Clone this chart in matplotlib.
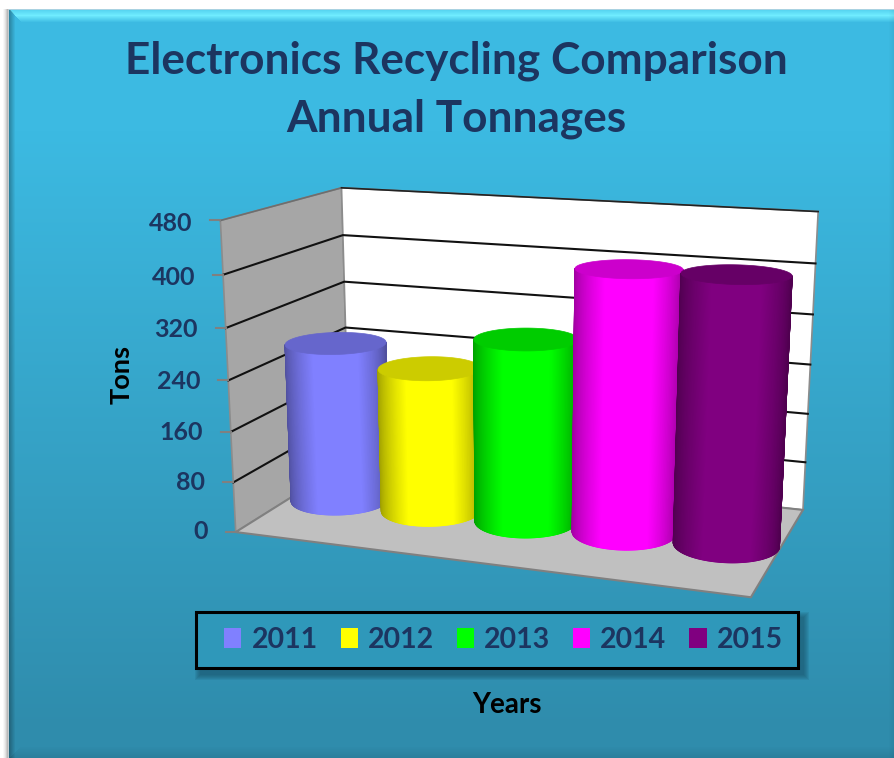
import numpy as np
import matplotlib
matplotlib.use('Agg')
from matplotlib import pyplot as plt
from matplotlib.collections import PolyCollection
from matplotlib.patches import Patch, Polygon, Rectangle

plt.rcParams['font.family'] = ['Lato', 'DejaVu Sans']

years = ['2011', '2012', '2013', '2014', '2015']
tons = [261, 233, 292, 410, 412]
colors = [(128, 128, 255), (255, 255, 0), (0, 255, 0), (255, 0, 255), (128, 0, 128)]
y_ticks = [0, 80, 160, 240, 320, 400, 480]
y_max = 480

NAVY = '#1C3560'
W, H = 894, 758


# Camera of the 3D box: (across, depth, height) in 0..1 -> pixel of the picture
def fit_camera():
    box = [(0, 0, 0), (1, 0, 0), (1, 1, 0), (0, 1, 0), (0, 0, 1), (0, 1, 1), (1, 1, 1)]
    pix = [(236, 530), (751, 599), (803, 508), (349, 463), (220, 221), (342, 187), (818, 212)]
    rows = []
    for (a, b, c), (x, y) in zip(box, pix):
        rows.append([a, b, c, 1, 0, 0, 0, 0, -x * a, -x * b, -x * c, -x])
        rows.append([0, 0, 0, 0, a, b, c, 1, -y * a, -y * b, -y * c, -y])
    return np.linalg.svd(np.array(rows, float))[2][-1].reshape(3, 4)


CAM = fit_camera()


def project(a, b, c):
    a, b, c = np.broadcast_arrays(a, b, c)
    q = CAM @ np.stack([a, b, c, np.ones_like(a)]).reshape(4, -1).astype(float)
    return np.stack([q[0] / q[2], q[1] / q[2]], axis=1)


def background():
    img = np.zeros((H, W, 3))
    top = np.array([60, 186, 226.])
    bottom = np.array([47, 140, 172.])
    t = np.clip((np.arange(H)[:, None] - 130) / 600, 0, 1)
    img[:] = (top + (bottom - top) * t)[:, None, :].reshape(H, 1, 3)
    # bevels round the panel
    glow = np.array([112, 236, 255.])
    for y in range(10, 23):
        k = 1 - abs(y - 15) / 7 if y > 15 else 0.55 + 0.09 * (y - 10)
        img[y, y:] = top + (glow - top) * k
    for x in range(9, 15):
        img[x:, x] = img[x:, x] * (0.72 + 0.047 * (x - 9))
    for y in range(746, H):
        img[y, 9 + (H - y):] = img[y, 9 + (H - y):] * (1 - 0.008 * (y - 746))
    for x in range(888, W):
        img[:, x] = img[:, x] * (1 - 0.01 * (x - 888))
    img[9, 9:] = np.array([170, 210, 225.])
    img[:9, :] = 255
    img[:, :9] = 255
    img[9:, 3:9] = np.array([[248] * 3, [238] * 3, [225] * 3, [205] * 3, [185] * 3, [195, 205, 210]])
    return img / 255


def draw_walls(ax):
    wall = project([0, 0, 0, 0], [0, 1, 1, 0], [0, 0, 1, 1])
    back = project([0, 1, 1, 0], [1, 1, 1, 1], [0, 0, 1, 1])
    floor = project([0, 1, 1, 0], [0, 0, 1, 1], [0, 0, 0, 0])
    ax.add_patch(Polygon(wall, fc='#A6A6A6', ec='#8C8C8C', lw=1.2, zorder=2))
    ax.add_patch(Polygon(back, fc='white', ec='#8C8C8C', lw=1.2, zorder=2))
    ax.add_patch(Polygon(floor, fc='#C0C0C0', ec='#808080', lw=1.5, zorder=2))

    for tick in y_ticks:
        h = tick / y_max
        line = project([0, 0, 1], [0, 1, 1], [h, h, h])
        if tick == y_max:
            # top edge of the side wall is grey, only the back wall one is dark
            ax.plot(line[:2, 0], line[:2, 1], color='#6E6E6E', lw=1.2, zorder=3)
            ax.plot(line[1:, 0], line[1:, 1], color='#222222', lw=1.2, zorder=3)
        elif tick > 0:
            ax.plot(line[:, 0], line[:, 1], color='#111111', lw=1.5, zorder=3)
        x0, y0 = project(0, 0, h)[0]
        ax.plot([x0 - 10, x0], [y0, y0], color='#808080', lw=1.5, zorder=3)
        ax.text(x0 - 28, y0 - 1 + 4 * h, str(tick), ha='right', va='center', color=NAVY,
                fontsize=18, fontweight='bold', zorder=6)


def draw_cylinder(ax, idx, value, rgb):
    rgb = np.array(rgb) / 255
    u = (idx + 0.5) / len(tons)
    ang = np.linspace(0, 2 * np.pi, 361)
    a = u + 0.099 * np.cos(ang)
    b = 0.5 + 0.2 * np.sin(ang)
    h = value / y_max
    base = project(a, b, 0)
    top = project(a, b, h)

    # only the arc that faces the viewer, from the left extreme to the right one
    i0, i1 = np.argmin(base[:, 0]), np.argmax(base[:, 0])
    n = len(ang) - 1
    arc = [(i0 + k) % n for k in range(((i1 - i0) % n) + 1)]
    if base[arc, 1].mean() < base[:-1, 1].mean():
        arc = [(i0 - k) % n for k in range(((i0 - i1) % n) + 1)]

    # opaque body first so no wall line shows between the strips
    outline = np.vstack([base[arc], top[arc][::-1]])
    z = 4 + idx * 0.1
    ax.add_patch(Polygon(outline, fc=rgb * 0.8, ec='none', zorder=z))

    left, right = base[i0, 0], base[i1, 0]
    strips, shades = [], []
    for p, q in zip(arc[:-1], arc[1:]):
        strips.append([base[p], base[q], top[q], top[p]])
        t = (base[p, 0] - left) / (right - left)
        k = (1 - abs(2 * t - 1)) / 0.55
        shades.append(rgb * (0.62 + 0.38 * min(k, 1) ** 0.7))
    body = PolyCollection(strips, facecolors=shades, edgecolors=shades, linewidths=0.8,
                          zorder=z + 0.01)
    ax.add_collection(body)
    ax.add_patch(Polygon(top, fc=rgb * 0.8, ec=rgb * 0.8, lw=0.5, zorder=z + 0.02))


fig = plt.figure(figsize=(W / 100, H / 100), dpi=100)
ax = fig.add_axes([0, 0, 1, 1])
ax.set_xlim(0, W)
ax.set_ylim(H, 0)
ax.axis('off')
ax.imshow(background(), extent=(0, W, H, 0), aspect='auto', zorder=0, interpolation='bilinear')

draw_walls(ax)
for i, (val, col) in enumerate(zip(tons, colors)):
    draw_cylinder(ax, i, val, col)

ax.text(456, 61, 'Electronics Recycling Comparison', ha='center', va='center',
        color=NAVY, fontsize=31.8, fontweight='bold')
ax.text(456, 119, 'Annual Tonnages', ha='center', va='center',
        color=NAVY, fontsize=31.8, fontweight='bold')
ax.text(122, 375, 'Tons', rotation=90, ha='center', va='center',
        color='black', fontsize=19.5, fontweight='bold')
ax.text(507, 705, 'Years', ha='center', va='center',
        color='black', fontsize=20, fontweight='bold')

# legend frame with a soft shadow under it
for grow in range(6, 0, -1):
    ax.add_patch(Rectangle((196 + 5 - grow, 612 + 6 - grow), 602 + 2 * grow, 56 + 2 * grow,
                           fc='#174B60', ec='none', alpha=0.12, zorder=6.5))
ax.add_patch(Rectangle((196, 612), 602, 56, fc='#2F98BA', ec='black', lw=2.2, zorder=6.6))

handles = [Patch(fc=np.array(c) / 255, ec='none', label=y) for c, y in zip(colors, years)]
leg = ax.legend(handles=handles, ncol=5, loc='center', bbox_to_anchor=(503.5, 640),
                bbox_transform=ax.transData, frameon=False, handlelength=0.6, handleheight=0.65,
                handletextpad=0.35, columnspacing=0.81, prop={'size': 20.5, 'weight': 'bold'})
for txt in leg.get_texts():
    txt.set_color(NAVY)
leg.set_zorder(7)

fig.savefig('out.png', dpi=100)
